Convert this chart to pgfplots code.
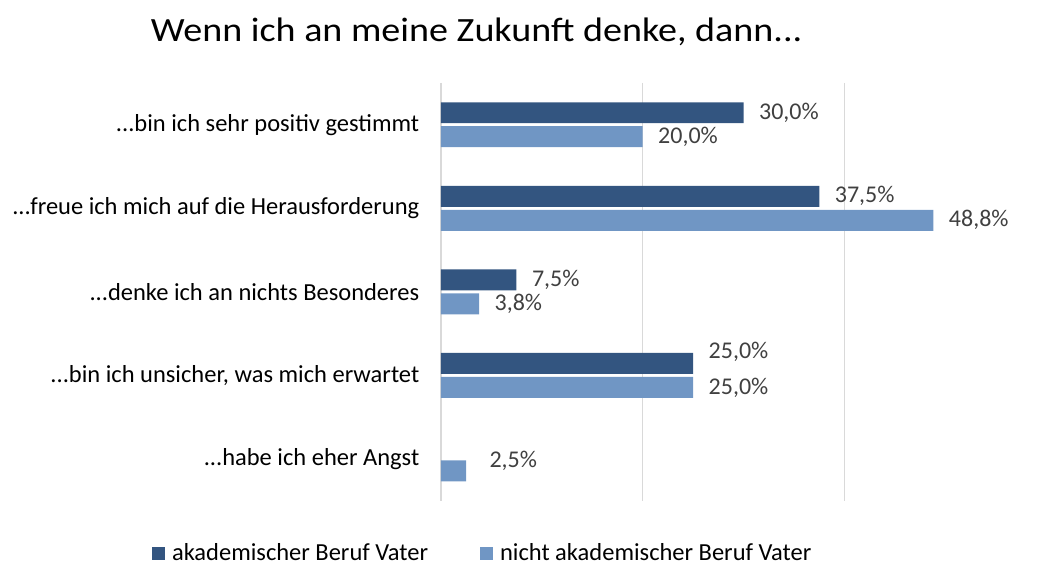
\documentclass[border=0pt]{standalone}
\usepackage{pgfplots}
\pgfplotsset{compat=1.18}
\usepackage{fontspec}
\setmainfont{Carlito}
\newfontfamily\titlefont{Carlito}[FakeStretch=1.12]
\definecolor{darkb}{HTML}{335580}
\definecolor{lightb}{HTML}{7096C4}
\definecolor{gridc}{HTML}{D9D9D9}
\definecolor{lbl}{HTML}{404040}
\begin{document}
\begin{tikzpicture}
\begin{axis}[
  name=ax,
  scale only axis,
  width=555.5pt, height=418pt,
  xbar, bar width=21pt,
  xmin=0, xmax=55,
  ymin=-0.5, ymax=4.5,
  y dir=reverse,
  ytick={0,1,2,3,4},
  yticklabel={\ifcase\ticknum ...bin ich sehr positiv gestimmt\or ...freue ich mich auf die Herausforderung\or ...denke ich an nichts Besonderes\or ...bin ich unsicher, was mich erwartet\or ...habe ich eher Angst\fi},
  yticklabel style={font=\fontsize{24.5}{29}\selectfont, text=black, xshift=-18pt},
  xtick={0,20,40},
  xticklabels={},
  xmajorgrids,
  grid style={gridc, line width=1.6pt},
  axis line style={draw=none},
  major tick length=0pt,
  title={Wenn ich an meine Zukunft denke, dann...},
  title style={font=\titlefont\fontsize{34}{40}\selectfont, at={(rel axis cs:0.0645,1.086)}, anchor=base, yshift=0pt},
  nodes near coords={\pgfmathprintnumber[assume math mode=true,fixed,fixed zerofill,precision=1,use comma]{\pgfplotspointmeta}\%},
  nodes near coords style={font=\fontsize{24}{29}\selectfont, text=lbl, anchor=west, xshift=12pt},
  legend columns=2,
  legend style={draw=none, fill=none, at={(rel axis cs:0.0755,-0.124)}, anchor=center, font=\fontsize{24.5}{29}\selectfont, /tikz/every even column/.append style={column sep=50pt}},
  legend cell align=left,
  legend image code/.code={\fill[#1] (0pt,-7pt) rectangle (13pt,6pt); \path (18pt,0pt);},
]
\addplot[fill=darkb, draw=none, bar shift=12pt,
  coordinate style/.condition={\coordindex==3}{yshift=12pt}] coordinates {(30,0) (37.5,1) (7.5,2) (25,3)};
\addlegendentry{akademischer Beruf Vater}
\addplot[fill=lightb, draw=none, bar shift=-12pt,
  coordinate style/.condition={\coordindex==4}{yshift=10pt, xshift=8pt}] coordinates {(20,0) (48.8,1) (3.8,2) (25,3) (2.5,4)};
\addlegendentry{nicht akademischer Beruf Vater}
\end{axis}
\path[use as bounding box] ([xshift=-441pt,yshift=-61pt]ax.south west) rectangle ([xshift=47pt,yshift=83pt]ax.north east);
\end{tikzpicture}
\end{document}
